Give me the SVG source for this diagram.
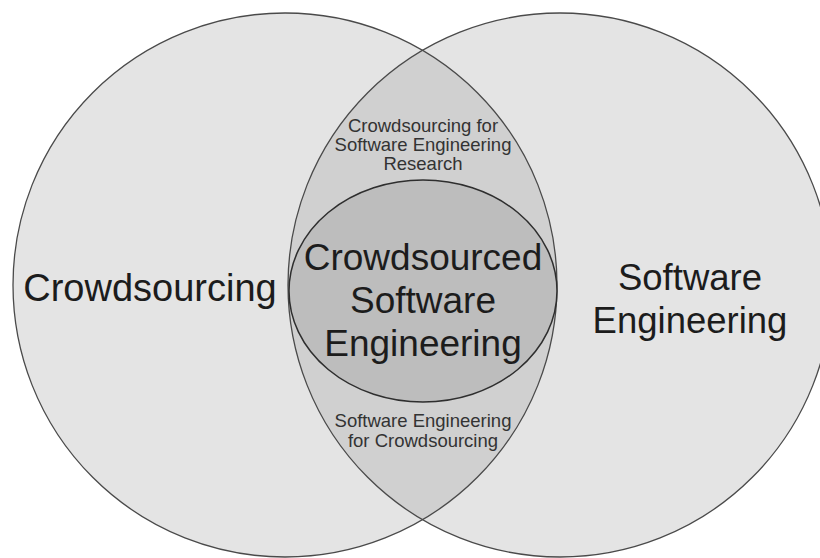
<svg xmlns="http://www.w3.org/2000/svg" width="820" height="558" viewBox="0 0 820 558">
<style>
.fillc{fill:#e4e4e4;stroke:none}
.outline{fill:none;stroke:#4a4a4a;stroke-width:1.3}
.lens{fill:#d0d0d0;stroke:none}
.core{fill:#bdbdbd;stroke:#2e2e2e;stroke-width:1.5}
.big{font-family:"Liberation Sans",Arial,Helvetica,sans-serif;fill:#1c1c1c;text-anchor:middle}
.small{font-family:"Liberation Sans",Arial,Helvetica,sans-serif;fill:#333;text-anchor:middle;font-size:18.5px}
</style>
<rect width="820" height="558" fill="#ffffff"/>
<g id="crowdsourcing">
<circle class="fillc" cx="285" cy="285" r="272"/>
</g>
<g id="software-engineering">
<circle class="fillc" cx="560" cy="285" r="272"/>
</g>
<g id="intersection">
<path class="lens" d="M422.5 50.31 A272 272 0 0 1 422.5 519.69 A272 272 0 0 1 422.5 50.31 Z"/>
</g>
<g id="outlines">
<circle class="outline" cx="285" cy="285" r="272"/>
<circle class="outline" cx="560" cy="285" r="272"/>
</g>
<g id="crowdsourced-se">
<ellipse class="core" cx="423" cy="291" rx="134" ry="111"/>
<text class="big" x="423" y="270" font-size="37">Crowdsourced</text>
<text class="big" x="423" y="313" font-size="37">Software</text>
<text class="big" x="423" y="356" font-size="37">Engineering</text>
</g>
<g id="labels">
<text class="big" x="150" y="301" font-size="38">Crowdsourcing</text>
<text class="big" x="690" y="290" font-size="36.5">Software</text>
<text class="big" x="690" y="333" font-size="36.5">Engineering</text>
<text class="small" x="423" y="132">Crowdsourcing for</text>
<text class="small" x="423" y="151">Software Engineering</text>
<text class="small" x="423" y="170">Research</text>
<text class="small" x="423" y="427">Software Engineering</text>
<text class="small" x="423" y="447">for Crowdsourcing</text>
</g>
</svg>
